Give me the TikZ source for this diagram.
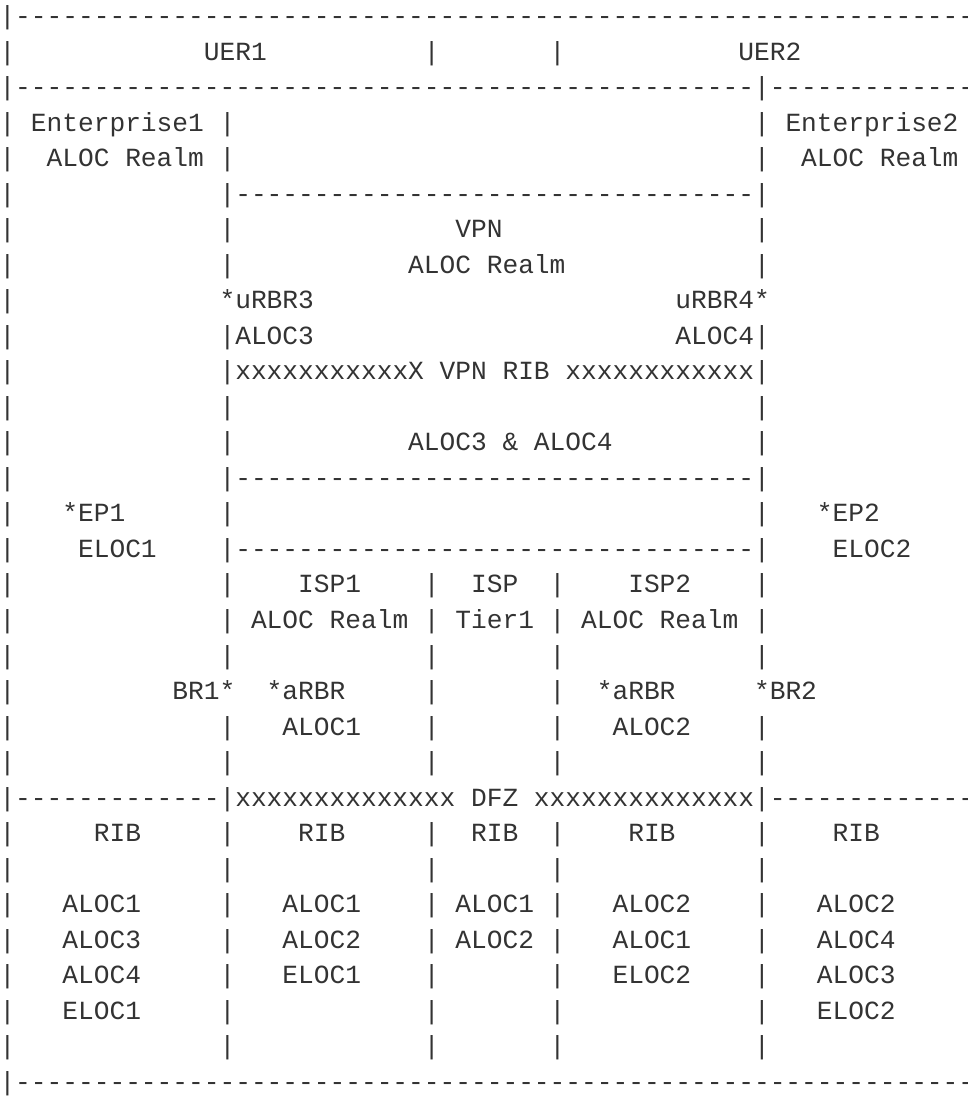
\documentclass[tikz,border=0pt]{standalone}
\usepackage{fontspec}
\setmonofont{Liberation Mono}
\definecolor{ink}{HTML}{333333}
\newcommand\dashes[1]{\foreach \i in {1,...,#1}{-}}
\newcommand\ascii[3]{\node[txt] (r#1c#2) at ({#2*15.72-0.5},{-24.5-(#1-1)*35.53}) {#3};}
\newcommand\allbars[1]{\ascii{#1}{0}{|}\ascii{#1}{14}{|}\ascii{#1}{27}{|}\ascii{#1}{35}{|}\ascii{#1}{48}{|}}
\begin{document}
\begin{tikzpicture}[x=1pt,y=1pt,
  txt/.style={anchor=base west, inner sep=0pt, outer sep=0pt,
    font=\ttfamily\fontsize{26.2}{30}\selectfont, text=ink}]
\fill[white] (0,0) rectangle (968,-1096);
\clip (0,0) rectangle (968,-1096);
% row 1
\ascii{1}{0}{|\dashes{61}}
% row 2
\ascii{2}{0}{|}\ascii{2}{13}{UER1}\ascii{2}{27}{|}\ascii{2}{35}{|}\ascii{2}{47}{UER2}
% row 3
\ascii{3}{0}{|\dashes{47}|\dashes{13}}
% row 4
\ascii{4}{0}{|}\ascii{4}{2}{Enterprise1}\ascii{4}{14}{|}\ascii{4}{48}{|}\ascii{4}{50}{Enterprise2}
% row 5
\ascii{5}{0}{|}\ascii{5}{3}{ALOC Realm}\ascii{5}{14}{|}\ascii{5}{48}{|}\ascii{5}{51}{ALOC Realm}
% row 6
\ascii{6}{0}{|}\ascii{6}{14}{|\dashes{33}|}
% row 7
\ascii{7}{0}{|}\ascii{7}{14}{|}\ascii{7}{29}{VPN}\ascii{7}{48}{|}
% row 8
\ascii{8}{0}{|}\ascii{8}{14}{|}\ascii{8}{26}{ALOC Realm}\ascii{8}{48}{|}
% row 9
\ascii{9}{0}{|}\ascii{9}{14}{*uRBR3}\ascii{9}{43}{uRBR4*}
% row 10
\ascii{10}{0}{|}\ascii{10}{14}{|ALOC3}\ascii{10}{43}{ALOC4|}
% row 11
\ascii{11}{0}{|}\ascii{11}{14}{|xxxxxxxxxxxX VPN RIB xxxxxxxxxxxx|}
% row 12
\ascii{12}{0}{|}\ascii{12}{14}{|}\ascii{12}{48}{|}
% row 13
\ascii{13}{0}{|}\ascii{13}{14}{|}\ascii{13}{26}{ALOC3 \& ALOC4}\ascii{13}{48}{|}
% row 14
\ascii{14}{0}{|}\ascii{14}{14}{|\dashes{33}|}
% row 15
\ascii{15}{0}{|}\ascii{15}{4}{*EP1}\ascii{15}{14}{|}\ascii{15}{48}{|}\ascii{15}{52}{*EP2}
% row 16
\ascii{16}{0}{|}\ascii{16}{5}{ELOC1}\ascii{16}{14}{|\dashes{33}|}\ascii{16}{53}{ELOC2}
% row 17
\allbars{17}\ascii{17}{19}{ISP1}\ascii{17}{30}{ISP}\ascii{17}{40}{ISP2}
% row 18
\allbars{18}\ascii{18}{16}{ALOC Realm}\ascii{18}{29}{Tier1}\ascii{18}{37}{ALOC Realm}
% row 19
\allbars{19}
% row 20
\ascii{20}{0}{|}\ascii{20}{11}{BR1*}\ascii{20}{17}{*aRBR}\ascii{20}{27}{|}\ascii{20}{35}{|}\ascii{20}{38}{*aRBR}\ascii{20}{48}{*BR2}
% row 21
\allbars{21}\ascii{21}{18}{ALOC1}\ascii{21}{39}{ALOC2}
% row 22
\allbars{22}
% row 23
\ascii{23}{0}{|\dashes{13}|xxxxxxxxxxxxxx DFZ xxxxxxxxxxxxxx|\dashes{13}}
% row 24
\allbars{24}\ascii{24}{6}{RIB}\ascii{24}{19}{RIB}\ascii{24}{30}{RIB}\ascii{24}{40}{RIB}\ascii{24}{53}{RIB}
% row 25
\allbars{25}
% row 26
\allbars{26}\ascii{26}{4}{ALOC1}\ascii{26}{18}{ALOC1}\ascii{26}{29}{ALOC1}\ascii{26}{39}{ALOC2}\ascii{26}{52}{ALOC2}
% row 27
\allbars{27}\ascii{27}{4}{ALOC3}\ascii{27}{18}{ALOC2}\ascii{27}{29}{ALOC2}\ascii{27}{39}{ALOC1}\ascii{27}{52}{ALOC4}
% row 28
\allbars{28}\ascii{28}{4}{ALOC4}\ascii{28}{18}{ELOC1}\ascii{28}{39}{ELOC2}\ascii{28}{52}{ALOC3}
% row 29
\allbars{29}\ascii{29}{4}{ELOC1}\ascii{29}{52}{ELOC2}
% row 30
\allbars{30}
% row 31
\ascii{31}{0}{|\dashes{61}}
\end{tikzpicture}
\end{document}
